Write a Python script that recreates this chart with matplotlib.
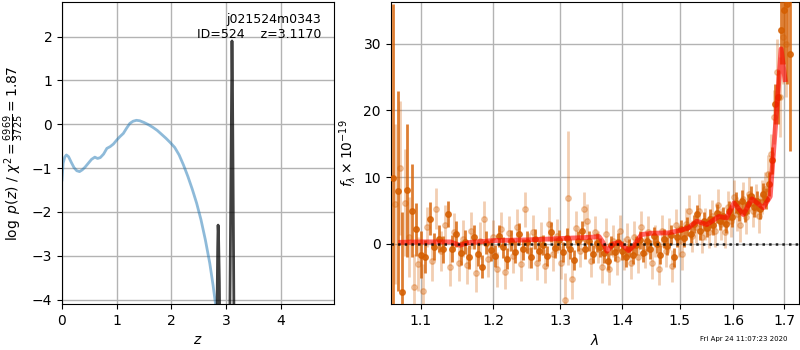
import matplotlib
matplotlib.use("Agg")
import matplotlib.pyplot as plt
from matplotlib.ticker import NullLocator, FixedLocator, FixedFormatter
import numpy as np

# ---------------- data: redshift panel ----------------
z_coarse = [0.0, 0.02, 0.05, 0.08, 0.12, 0.17, 0.22, 0.27, 0.32, 0.37, 0.42, 0.48,
            0.54, 0.60, 0.65, 0.70, 0.76, 0.82, 0.88, 0.94, 1.00, 1.06, 1.12, 1.18,
            1.24, 1.30, 1.36, 1.42, 1.50, 1.58, 1.66, 1.74, 1.82, 1.90, 1.98, 2.06,
            2.14, 2.22, 2.30, 2.38, 2.46, 2.54, 2.62, 2.70, 2.76, 2.82]
logpz_coarse = [-1.27, -0.89, -0.75, -0.70, -0.74, -0.87, -0.99, -1.06, -1.08, -1.04,
                -0.98, -0.89, -0.80, -0.75, -0.78, -0.76, -0.68, -0.55, -0.51, -0.45,
                -0.36, -0.28, -0.21, -0.09, 0.02, 0.07, 0.09, 0.08, 0.04, -0.01, -0.07,
                -0.14, -0.23, -0.32, -0.42, -0.53, -0.70, -0.93, -1.19, -1.48, -1.80,
                -2.18, -2.64, -3.17, -3.67, -4.24]
z_fine = [2.81, 2.830, 2.845, 2.852, 2.860, 2.875, 2.895, 2.95, 3.03, 3.065, 3.085,
          3.098, 3.106, 3.115, 3.127, 3.145, 3.17]
logpz_fine = [-7.0, -4.6, -2.8, -2.3, -2.5, -3.6, -6.0, -9.0, -9.0, -4.6, -1.5,
              0.6, 1.9, 0.9, -1.5, -5.0, -8.0]
z_ticks = [0, 1, 2, 3, 4]
logpz_ticks = [-4, -3, -2, -1, 0, 1, 2]

# ---------------- data: spectrum panel ----------------
wave_a = [1.064, 1.070, 1.076, 1.082, 1.088, 1.094, 1.100, 1.106, 1.112, 1.118, 1.124,
          1.130, 1.136, 1.142, 1.148, 1.154, 1.160, 1.166, 1.172, 1.178, 1.184, 1.190,
          1.196, 1.202, 1.208, 1.214, 1.220, 1.226, 1.232, 1.238, 1.244, 1.250, 1.256,
          1.262, 1.268, 1.274, 1.280, 1.286, 1.292, 1.298, 1.304, 1.310, 1.316, 1.322,
          1.328, 1.334, 1.340, 1.346, 1.352, 1.358, 1.364, 1.370, 1.376, 1.382, 1.388,
          1.394, 1.400, 1.406, 1.412, 1.418, 1.424, 1.430, 1.436, 1.442, 1.448, 1.454,
          1.460, 1.466, 1.472, 1.478, 1.484, 1.490, 1.496, 1.502, 1.508, 1.514, 1.520,
          1.526, 1.532, 1.538, 1.544, 1.550, 1.556, 1.562, 1.568, 1.574, 1.580, 1.586,
          1.592, 1.598, 1.604, 1.610, 1.616, 1.622, 1.628, 1.634, 1.640, 1.646, 1.652,
          1.658, 1.664, 1.670, 1.676, 1.682, 1.688, 1.694, 1.700, 1.706, 1.712]
flux_a = [9.9, 7.9, -7.2, 8.0, 5.0, 2.2, -1.6, -1.9, 3.8, -0.4, 0.8,
          -0.8, 4.5, -0.7, 1.5, -1.3, 0.3, -2.0, 1.0, -1.5, -3.4, 0.2,
          -0.9, -1.8, 1.2, -0.5, -2.2, 0.5, -1.2, 1.5, -0.8, 0.3, -2.0,
          0.8, -1.0, -0.2, -1.8, 1.8, -0.6, 0.6, -1.2, 0.9, -0.8, -2.4,
          0.4, 2.0, -0.7, 0.5, -1.5, 0.2, -0.5, -1.4, -2.5, -0.2, -1.2,
          0.3, -1.0, -2.0, -0.6, -1.6, -0.2, 0.6, -1.3, 0.4, -0.8, 1.2,
          0.0, -1.6, 0.8, -0.3, 1.4, -2.0, 1.0, 2.2, 0.9, 2.6, 1.5,
          3.0, 4.5, 2.0, 3.4, 2.4, 3.8, 2.8, 4.6, 3.5, 4.2, 3.0,
          5.0, 4.0, 6.2, 5.0, 6.5, 4.8, 6.0, 7.2, 5.5, 6.4, 5.2,
          7.5, 6.8, 9.0, 12.5, 21.0, 22.0, 32.0, 35.0, 36.0, 28.4]
err_a = [26, 15, 12, 10, 7, 4, 3.5, 2.5, 2.5, 2.0, 2.0,
         2.0, 2.0, 2.0, 2.0, 1.8, 1.8, 1.8, 1.8, 1.8, 1.7, 1.7,
         1.7, 1.7, 1.7, 1.6, 1.6, 1.6, 1.6, 1.6, 1.6, 1.6, 1.6,
         1.5, 1.5, 1.5, 1.5, 1.5, 1.5, 1.5, 1.5, 1.5, 1.5, 1.5,
         1.5, 1.5, 1.5, 1.5, 1.4, 1.4, 1.4, 1.4, 1.4, 1.4, 1.4,
         1.4, 1.4, 1.4, 1.4, 1.4, 1.4, 1.4, 1.4, 1.4, 1.4, 1.4,
         1.4, 1.4, 1.4, 1.4, 1.4, 1.4, 1.4, 1.4, 1.4, 1.4, 1.4,
         1.4, 1.4, 1.4, 1.4, 1.4, 1.4, 1.4, 1.4, 1.4, 1.4, 1.4,
         1.4, 1.4, 1.5, 1.5, 1.5, 1.5, 1.5, 1.5, 1.5, 1.5, 1.5,
         1.6, 1.6, 1.8, 2.0, 3.0, 4.0, 5.0, 8.0, 12.0, 14.5]

wave_b = [1.067, 1.073, 1.079, 1.085, 1.091, 1.097, 1.103, 1.109, 1.115, 1.121, 1.127,
          1.133, 1.139, 1.145, 1.151, 1.157, 1.163, 1.169, 1.175, 1.181, 1.187, 1.193,
          1.199, 1.205, 1.211, 1.217, 1.223, 1.229, 1.235, 1.241, 1.247, 1.253, 1.259,
          1.265, 1.271, 1.277, 1.283, 1.289, 1.295, 1.301, 1.307, 1.313, 1.319, 1.325,
          1.331, 1.337, 1.343, 1.349, 1.355, 1.361, 1.367, 1.373, 1.379, 1.385, 1.391,
          1.397, 1.403, 1.409, 1.415, 1.421, 1.427, 1.433, 1.439, 1.445, 1.451, 1.457,
          1.463, 1.469, 1.475, 1.481, 1.487, 1.493, 1.499, 1.505, 1.511, 1.517, 1.523,
          1.529, 1.535, 1.541, 1.547, 1.553, 1.559, 1.565, 1.571, 1.577, 1.583, 1.589,
          1.595, 1.601, 1.607, 1.613, 1.619, 1.625, 1.631, 1.637, 1.643, 1.649, 1.655,
          1.661, 1.667, 1.673, 1.679, 1.685, 1.691, 1.697, 1.703]
flux_b = [6.0, 11.4, 6.2, 1.0, -6.5, -3.0, -7.0, 2.5, -2.5, 5.3, -1.0,
          2.8, -3.5, 1.8, -2.8, 0.8, -3.2, 2.0, -4.4, 0.5, 3.7, -2.2,
          1.0, -3.8, 2.2, -4.2, 1.6, -1.8, 2.6, -3.0, 5.2, -1.0, 1.8,
          -2.8, 0.8, -3.3, 3.0, -1.5, 1.2, -2.8, -8.4, 6.9, -5.2, 2.4,
          -1.0, 5.2, 3.5, -2.5, 1.8, -0.5, -3.5, 1.5, -3.8, 0.5, -2.2,
          2.0, -1.5, 0.8, -2.8, 1.0, -2.0, 2.5, -1.2, 1.8, -2.8, 0.5,
          -3.7, 2.0, -1.0, 1.5, -3.3, 2.8, 0.5, -1.5, 3.0, 4.9, 1.2,
          2.5, 5.0, 1.0, 3.0, 1.8, 4.2, 2.0, 5.8, 3.0, 1.8, 5.5,
          3.5, 7.0, 4.5, 2.8, 6.8, 4.0, 7.5, 5.0, 6.5, 4.2, 7.0,
          8.2, 10.5, 13.5, 19.0, 25.7, 22.0, 31.0, 30.0]
err_b = [12, 10, 8, 6, 5, 4, 4, 3, 3, 3, 3,
         3, 2.8, 2.8, 2.8, 2.8, 2.8, 2.8, 2.8, 2.8, 2.8, 2.8,
         2.6, 2.6, 2.6, 2.6, 2.6, 2.6, 2.6, 2.6, 2.6, 2.6, 2.6,
         2.6, 2.5, 2.5, 2.5, 2.5, 2.5, 2.5, 4.0, 10.0, 3.0, 2.5,
         2.5, 2.5, 2.5, 2.5, 2.4, 2.4, 2.4, 2.4, 2.4, 2.4, 2.4,
         2.4, 2.4, 2.4, 2.4, 2.4, 2.4, 2.4, 2.4, 2.4, 2.4, 2.4,
         2.4, 2.4, 2.4, 2.4, 2.4, 2.4, 2.4, 2.4, 2.4, 2.4, 2.4,
         2.4, 2.4, 2.4, 2.4, 2.4, 2.4, 2.4, 2.4, 2.4, 2.4, 2.4,
         2.4, 2.5, 2.5, 2.5, 2.5, 2.5, 2.5, 2.5, 2.5, 2.5, 2.5,
         2.6, 2.8, 3.0, 4.0, 5.0, 6.0, 7.0, 8.0]

wave_model = [1.074, 1.10, 1.14, 1.153, 1.165, 1.20, 1.25, 1.30, 1.35, 1.362, 1.368,
              1.375, 1.385, 1.395, 1.402, 1.411, 1.42, 1.433, 1.45, 1.48, 1.50, 1.516,
              1.531, 1.55, 1.572, 1.587, 1.601, 1.619, 1.636, 1.658, 1.672, 1.679,
              1.686, 1.694, 1.702]
flux_model = [0.24, 0.3, 0.3, -0.2, 0.2, 0.5, 0.6, 0.8, 1.0, 1.1, 0.3,
              -1.1, 0.0, 0.2, -0.3, -1.0, -0.3, 1.4, 1.6, 1.65, 2.0, 2.4,
              3.4, 2.9, 4.1, 3.9, 6.15, 4.4, 6.75, 5.4, 7.1, 14.1,
              21.0, 29.2, 24.6]

wave_ticks = [1.1, 1.2, 1.3, 1.4, 1.5, 1.6, 1.7]
wave_ticklabels = ["1.1", "1.2", "1.3", "1.4", "1.5", "1.6", "1.7"]
flux_ticks = [0, 10, 20, 30]

title_text = "j021524m0343\nID=524    z=3.1170"
date_text = "Fri Apr 24 11:07:23 2020"

# ---------------- figure ----------------
plt.rcParams['font.family'] = ['DejaVu Sans']
fig = plt.figure(figsize=(8, 3.5), dpi=100)

ax1 = fig.add_axes([0.0775, 0.1314, 0.34, 0.8643])
ax1.plot(z_coarse, logpz_coarse, color='#1f77b4', alpha=0.5, lw=2)
ax1.plot(z_fine, logpz_fine, color='k', alpha=0.75, lw=2)
ax1.set_xlim(0, 4.97)
ax1.set_ylim(-4.1, 2.8)
ax1.set_xticks(z_ticks)
ax1.set_yticks(logpz_ticks)
ax1.grid(True, color='0.7', lw=1)
ax1.set_axisbelow(True)
ax1.set_xlabel(r'$z$')
ax1.set_ylabel(r'$\log\ p(z)$ / $\chi^2=\frac{6969}{3725}=1.87$')
ax1.text(0.952, 0.963, title_text, ha='right', va='top',
         transform=ax1.transAxes, fontsize=9, multialignment='right')

ax2 = fig.add_axes([0.4884, 0.1314, 0.5104, 0.8643])
col = (0.8352941, 0.3686274, 0.0)
ax2.errorbar(wave_b, flux_b, yerr=err_b, fmt='o', color=col, alpha=0.3,
             ms=4, lw=2, elinewidth=2, capsize=0, zorder=3)
ax2.errorbar(wave_a, flux_a, yerr=err_a, fmt='o', color=col, alpha=0.8,
             ms=4, lw=2, elinewidth=2, capsize=0, zorder=4)
ax2.plot(wave_model, flux_model, color='r', alpha=0.6, lw=3.5, zorder=5)
ax2.set_xscale('log')
ax2.set_xlim(1.0612, 1.7308)
ax2.plot([1.0612, 1.7308], [0, 0], color='k', ls=':', lw=1.8, alpha=0.85, zorder=6)
ax2.set_ylim(-9.0, 36.3)
ax2.xaxis.set_major_locator(FixedLocator(wave_ticks))
ax2.xaxis.set_major_formatter(FixedFormatter(wave_ticklabels))
ax2.xaxis.set_minor_locator(NullLocator())
ax2.set_yticks(flux_ticks)
ax2.grid(True, color='0.7', lw=1)
ax2.set_axisbelow(True)
ax2.set_xlabel(r'$\lambda$')
ax2.set_ylabel(r'$f_\lambda\times 10^{-19}$')

fig.text(0.985, 0.022, date_text, ha='right', va='bottom', fontsize=5)

fig.savefig('out.png', dpi=100)
